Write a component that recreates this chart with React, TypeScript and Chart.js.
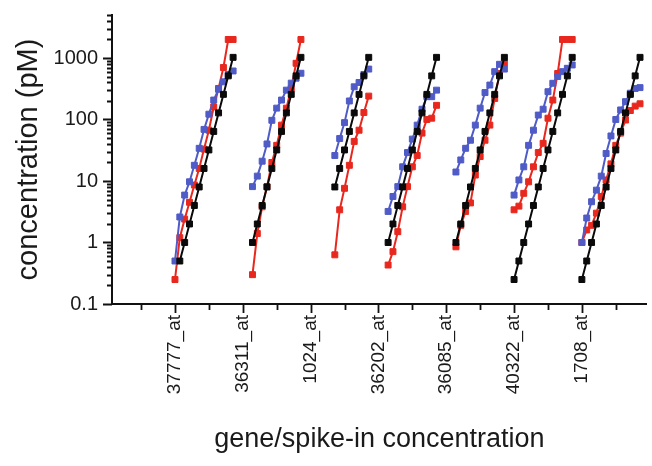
import { useEffect, useRef } from 'react';
import { Chart, registerables } from 'chart.js';

Chart.register(...registerables);

const GENES = ['37777_at', '36311_at', '1024_at', '36202_at', '36085_at', '40322_at', '1708_at'];
const SLOTS_PER_GENE = 14;
const Y_TICKS = [0.1, 1, 10, 100, 1000];

// first concentration slot (0 = 0.25 pM ... 12 = 1024 pM) of each gene's series
const BLACK_START = [1, 2, 5, 2, 2, 0, 0];
const RED_START = [0, 2, 5, 2, 2, 0, 0];
const BLUE_START = [0, 2, 5, 2, 2, 0, 0];

const BLACK = [
  [0.5, 1, 2, 4, 8, 16, 32, 64, 128, 256, 512, 1024],
  [1, 2, 4, 8, 16, 32, 64, 128, 256, 512, 1024],
  [8, 16, 32, 64, 128, 256, 512, 1024],
  [1, 2, 4, 8, 16, 32, 64, 128, 256, 512, 1024],
  [1, 2, 4, 8, 16, 32, 64, 128, 256, 512, 1024],
  [0.25, 0.5, 1, 2, 4, 8, 16, 32, 64, 128, 256, 512, 1024],
  [0.25, 0.5, 1, 2, 4, 8, 16, 32, 64, 128, 256, 512, 1024],
];

const RED = [
  [0.25, 1.2, 2.4, 4.5, 8.6, 16, 33, 67, 160, 320, 700, 2000, 2000],
  [0.3, 1.4, 3.8, 8.1, 20, 38, 81, 153, 320, 820, 2000],
  [0.63, 3.4, 7.6, 18, 44, 67, 130, 240],
  [0.43, 0.71, 1.5, 3.8, 8.1, 17, 26, 60, 100, 105, 170],
  [0.85, 1.9, 3.2, 4.4, 12.5, 25, 46, 81, 220, 560, 820],
  [3.4, 3.9, 6.3, 9.7, 17, 29, 41, 105, 207, 560, 2000, 2000, 2000],
  [1.0, 1.6, 1.9, 3.0, 5.6, 10.4, 19, 38, 60, 98, 140, 165, 180],
];

const BLUE = [
  [0.5, 2.6, 5.9, 9.7, 18, 34, 69, 122, 207, 310, 410, 540, 615],
  [8.1, 12, 21, 40, 97, 153, 207, 300, 390, 470, 565],
  [26, 49, 89, 200, 340, 400, 540, 660],
  [3.2, 5.6, 8.1, 17, 29, 48, 81, 147, 235, 235, 300],
  [14, 22, 34, 46, 81, 153, 274, 363, 600, 790, 660],
  [5.9, 10.4, 17, 38, 67, 118, 147, 283, 388, 500, 600, 680, 770],
  [1.0, 2.5, 4.6, 7.1, 12, 28, 54, 100, 143, 195, 268, 320, 330],
];

const FONT = "'Liberation Sans', Arial, Helvetica, sans-serif";
const TEXT = '#1a1a1a';
const AXIS = '#111';

function seriesDatasets(values: number[][], starts: number[], color: string) {
  return values.map((vals, g) => ({
    data: vals.map((v, i) => ({ x: g * SLOTS_PER_GENE + starts[g] + i, y: v })),
    borderColor: color,
    backgroundColor: color,
    borderWidth: 2,
    pointStyle: 'rect',
    pointRadius: 4.2,
    pointBorderWidth: 1,
    pointBackgroundColor: color,
    pointBorderColor: color,
    tension: 0,
  }));
}

const tickPlugin = {
  id: 'customTicks',
  afterDraw(chart: any) {
    const { ctx } = chart;
    const x = chart.scales.x;
    const y = chart.scales.y;
    const area = chart.chartArea;
    ctx.save();
    ctx.strokeStyle = AXIS;
    ctx.lineWidth = 1.8;
    ctx.beginPath();
    for (let g = 0; g <= GENES.length; g++) {
      if (g < GENES.length) {
        const px = Math.round(x.getPixelForValue(g * SLOTS_PER_GENE)) + 0.5;
        ctx.moveTo(px, area.bottom);
        ctx.lineTo(px, area.bottom + 9);
      }
      const mv = g * SLOTS_PER_GENE - SLOTS_PER_GENE / 2;
      if (mv >= x.min && mv <= x.max) {
        const pm = Math.round(x.getPixelForValue(mv)) + 0.5;
        ctx.moveTo(pm, area.bottom);
        ctx.lineTo(pm, area.bottom + 6);
      }
    }
    for (let d = -1; d <= 3; d++) {
      const base = Math.pow(10, d);
      for (let k = 1; k <= 9; k++) {
        const v = base * k;
        if (v < y.min - 1e-9 || v > y.max + 1e-9) continue;
        const py = Math.round(y.getPixelForValue(v)) + 0.5;
        const len = k === 1 ? 9 : 5;
        ctx.moveTo(area.left, py);
        ctx.lineTo(area.left - len, py);
      }
    }
    ctx.stroke();
    ctx.restore();
  },
};

export default function App() {
  const ref = useRef<HTMLCanvasElement | null>(null);
  useEffect(() => {
    if (!ref.current) return;
    const chart = new Chart(ref.current, {
      type: 'line',
      data: {
        datasets: [
          ...seriesDatasets(BLACK, BLACK_START, '#0a0a0a'),
          ...seriesDatasets(BLUE, BLUE_START, '#4f5bc6'),
          ...seriesDatasets(RED, RED_START, '#e8281e'),
        ] as any,
      },
      options: {
        responsive: false,
        animation: false,
        layout: { padding: { left: 0, right: 0, top: 15, bottom: 0 } },
        plugins: { legend: { display: false }, tooltip: { enabled: false } },
        scales: {
          x: {
            type: 'linear',
            min: -13,
            max: 97.4,
            grid: { display: false, drawTicks: false },
            border: { display: true, color: AXIS, width: 2 },
            afterBuildTicks: (s: any) => {
              s.ticks = GENES.map((_, i) => ({ value: i * SLOTS_PER_GENE }));
            },
            ticks: {
              autoSkip: false,
              minRotation: 90,
              maxRotation: 90,
              padding: 11,
              color: TEXT,
              font: { family: FONT, size: 19 },
              callback: (v: any) => GENES[Math.round(Number(v) / SLOTS_PER_GENE)] ?? '',
            },
            title: {
              display: true,
              text: 'gene/spike-in concentration',
              color: TEXT,
              font: { family: FONT, size: 27 },
              padding: { top: 0, bottom: 10 },
            },
            afterFit: (s: any) => {
              s.height = 162;
              s.paddingLeft = 0;
              s.paddingRight = 0;
            },
          },
          y: {
            type: 'logarithmic',
            min: 0.1,
            max: 5000,
            grid: { display: false, drawTicks: false },
            border: { display: true, color: AXIS, width: 2 },
            afterBuildTicks: (s: any) => {
              s.ticks = Y_TICKS.map((v) => ({ value: v }));
            },
            ticks: {
              padding: 14,
              color: TEXT,
              font: { family: FONT, size: 20 },
              callback: (v: any) => String(v),
            },
            title: {
              display: true,
              text: 'concentration (pM)',
              color: TEXT,
              font: { family: FONT, size: 29 },
              padding: { top: 12, bottom: 0 },
            },
            afterFit: (s: any) => {
              s.width = 112;
              s.paddingTop = 0;
              s.paddingBottom = 0;
            },
          },
        },
      } as any,
      plugins: [tickPlugin],
    });
    return () => chart.destroy();
  }, []);
  return (
    <div style={{ position: 'absolute', left: 0, top: 0, width: 652, height: 466, background: '#fff' }}>
      <canvas ref={ref} width={652} height={466} />
    </div>
  );
}
